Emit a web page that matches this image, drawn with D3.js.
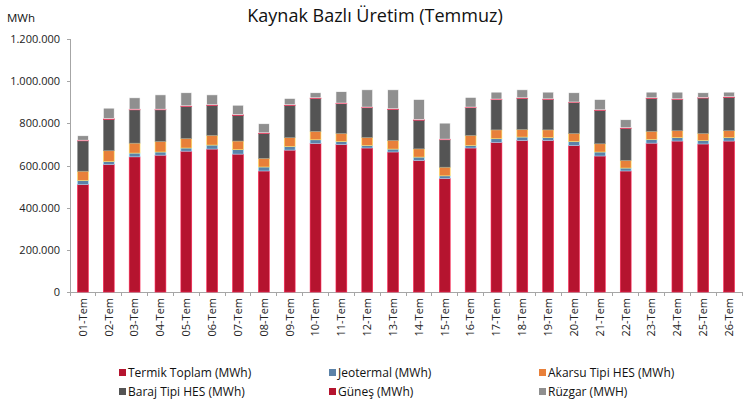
<!DOCTYPE html>
<html>
  <head>
    <meta charset="utf-8">
    <style>
    body {margin:0; background:white;}
    * {font-family: "Open Sans", sans-serif;}
    .axis path, .axis line {stroke: #a6a6a6; fill: none; shape-rendering: crispEdges;}
    .axis text {fill: #222; font-size: 11px;}
    </style>
  </head>
  <body>
    <div id="chart"></div>
    <script src="https://d3js.org/d3.v7.min.js"></script>
    <script>

  // data (MWh)
  var days = ["01-Tem","02-Tem","03-Tem","04-Tem","05-Tem","06-Tem","07-Tem","08-Tem","09-Tem","10-Tem",
    "11-Tem","12-Tem","13-Tem","14-Tem","15-Tem","16-Tem","17-Tem","18-Tem","19-Tem","20-Tem",
    "21-Tem","22-Tem","23-Tem","24-Tem","25-Tem","26-Tem"];

  var termik  = [510000,605000,641000,649000,668000,678000,654000,574000,673000,705000,700000,683000,664000,624000,539000,683000,710000,719000,719000,695000,645000,574000,706000,716000,702000,716000];
  var jeoterm = [19000,14000,18000,15000,15000,19000,21000,19000,17000,17000,14000,12000,14000,16000,12000,12000,17000,16000,13000,19000,19000,14000,18000,16000,17000,16000];
  var akarsu  = [44000,51000,47000,50000,45000,46000,41000,41000,42000,40000,38000,38000,41000,39000,41000,48000,42000,36000,37000,38000,39000,36000,38000,33000,33000,33000];
  var baraj   = [144000,149000,158000,150000,152000,142000,122000,118000,153000,156000,141000,141000,147000,136000,130000,131000,143000,147000,144000,146000,158000,152000,156000,148000,168000,158000];
  var gunes   = [3000,3000,3000,3000,3000,3000,3000,3000,3000,3000,3000,3000,3000,3000,3000,3000,3000,3000,3000,3000,3000,3000,3000,3000,3000,3000];
  var ruzgar  = [21000,50000,54000,68000,62000,47000,45000,43000,30000,24000,54000,82000,90000,95000,76000,46000,33000,38000,32000,44000,49000,38000,27000,32000,22000,22000];

  var seriesNames = ["Termik Toplam (MWh)","Jeotermal (MWh)","Akarsu Tipi HES (MWh)","Baraj Tipi HES (MWh)","Güneş (MWh)","Rüzgar (MWH)"];
  var seriesColors = ["#b5142f","#5b82a8","#e8803a","#545454","#b5142f","#8f8f8f"];
  var yTicks = [0,200000,400000,600000,800000,1000000,1200000];

  var keys = ["termik","jeoterm","akarsu","baraj","gunes","ruzgar"];
  var rows = days.map(function(d, i) {
    return {day: d, termik: termik[i], jeoterm: jeoterm[i], akarsu: akarsu[i],
      baraj: baraj[i], gunes: gunes[i], ruzgar: ruzgar[i]};
  });

  var W = 750, H = 401;
  var margin = {top: 39, left: 70, right: 8, bottom: 109};
  var width = W - margin.left - margin.right,
      height = H - margin.top - margin.bottom;

  var root = d3.select("#chart").append("svg")
    .attr("width", W).attr("height", H);

  root.append("text")
    .attr("x", 375).attr("y", 22)
    .attr("text-anchor", "middle")
    .style("font-size", "18px")
    .style("fill", "#111")
    .text("Kaynak Bazlı Üretim (Temmuz)");

  root.append("text")
    .attr("x", 7).attr("y", 22)
    .style("font-size", "11.5px")
    .style("fill", "#111")
    .text("MWh");

  var svg = root.append("g")
    .attr("transform", "translate(" + margin.left + "," + margin.top + ")");

  var x = d3.scaleBand().domain(days).range([0, width])
    .paddingInner(0.58).paddingOuter(0.29);
  var y = d3.scaleLinear().domain([0, 1200000]).range([height, 0]);

  var stack = d3.stack().keys(keys)(rows);

  // y axis
  svg.append("g")
    .attr("class", "axis")
    .call(d3.axisLeft(y).tickValues(yTicks).tickSize(3).tickPadding(7)
      .tickFormat(function(d) { return d3.format(",")(d).replace(/,/g, "."); }));

  // x axis: labels at band centres, tick marks between bands
  var xa = svg.append("g")
    .attr("class", "axis")
    .attr("transform", "translate(0," + height + ")")
    .call(d3.axisBottom(x).tickSize(0).tickSizeOuter(0));
  xa.selectAll("text")
    .attr("transform", "rotate(-90)")
    .attr("x", -6).attr("y", 0).attr("dy", "0.35em")
    .style("text-anchor", "end");
  xa.selectAll(".sep")
    .data(d3.range(days.length + 1))
    .enter().append("line")
    .attr("class", "sep")
    .attr("x1", function(i) { return i * x.step(); })
    .attr("x2", function(i) { return i * x.step(); })
    .attr("y1", 0).attr("y2", 4);

  // bars
  svg.append("g")
    .selectAll("g")
    .data(stack)
    .enter().append("g")
    .attr("fill", function(d, i) { return seriesColors[i]; })
    .attr("stroke", function(d, i) { return d3.color(seriesColors[i]).brighter(1.6); })
    .attr("stroke-width", 0.6)
    .selectAll("rect")
    .data(function(d) { return d; })
    .enter().append("rect")
    .attr("x", function(d) { return x(d.data.day); })
    .attr("width", x.bandwidth())
    .attr("y", function(d) { return y(d[1]); })
    .attr("height", function(d) { return y(d[0]) - y(d[1]); });

  // legend: 3 columns, 2 rows
  var legX = [119, 329, 539], legY = [373, 392];
  var leg = root.append("g")
    .selectAll("g")
    .data(seriesNames)
    .enter().append("g")
    .attr("transform", function(d, i) {
      return "translate(" + legX[i % 3] + "," + legY[Math.floor(i / 3)] + ")";
    });
  leg.append("rect")
    .attr("x", 0).attr("y", -4).attr("width", 7).attr("height", 7)
    .attr("fill", function(d, i) { return seriesColors[i]; });
  leg.append("text")
    .attr("x", 9).attr("dy", "0.35em")
    .style("font-size", "12px")
    .style("fill", "#111")
    .text(function(d) { return d; });

    </script>
  </body>
</html>
